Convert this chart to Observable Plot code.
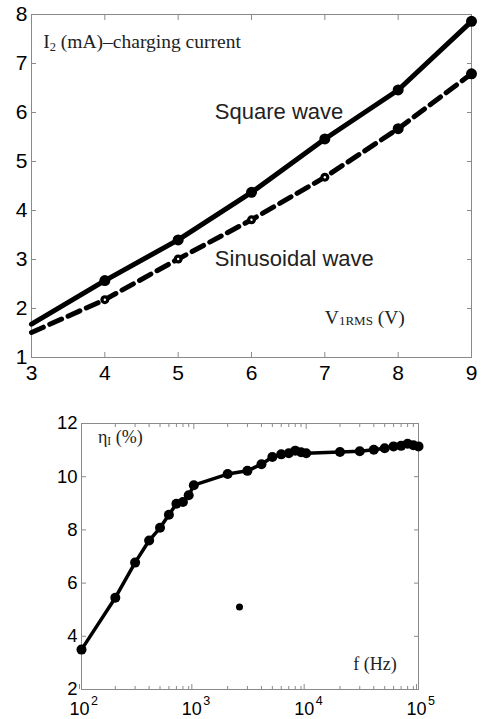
<!DOCTYPE html>
<html><head><meta charset="utf-8">
<script src="https://cdn.jsdelivr.net/npm/d3@7"></script>
<script src="https://cdn.jsdelivr.net/npm/@observablehq/plot@0.6"></script>
<style>body{margin:0;background:#fff} #c svg{display:block;overflow:visible}</style>
</head><body><div id="c"></div>
<script>
// ---- top chart data ----
const voltage = [3, 4, 5, 6, 7, 8, 9];
const squareCurrent = [1.68, 2.57, 3.40, 4.37, 5.46, 6.46, 7.86];
const sineCurrent = [1.51, 2.18, 3.01, 3.81, 4.68, 5.67, 6.79];
const markerVoltages = [4, 5, 6, 7, 8, 9];
const sineOpenMarkers = [4, 5, 6, 7];
const xTicksTop = [3, 4, 5, 6, 7, 8, 9];
const yTicksTop = [1, 2, 3, 4, 5, 6, 7, 8];

// ---- bottom chart data ----
const freq = [100, 200, 300, 400, 500, 600, 700, 800, 900, 1000, 2000, 3000, 4000, 5000, 6000, 7000, 8000, 9000, 10000, 20000, 30000, 40000, 50000, 60000, 70000, 80000, 90000, 100000];
const efficiency = [3.5, 5.45, 6.77, 7.6, 8.08, 8.57, 8.98, 9.05, 9.3, 9.68, 10.1, 10.22, 10.47, 10.74, 10.84, 10.88, 10.98, 10.92, 10.88, 10.93, 10.96, 11.01, 11.07, 11.14, 11.16, 11.24, 11.18, 11.14];
const outlierFreq = [2550];
const outlierEff = [5.1];
const majorFreqTicks = [100, 1000, 10000, 100000];
const minorFreqTicks = [200,300,400,500,600,700,800,900,2000,3000,4000,5000,6000,7000,8000,9000,20000,30000,40000,50000,60000,70000,80000,90000];
const yTicksBottom = [2, 4, 6, 8, 10, 12];

const SANS = "'Liberation Sans', Arial, sans-serif";
const SERIF = "'Liberation Serif', 'Times New Roman', serif";
const GRID = "#8a8a8a";

const sq = voltage.map((v, i) => ({v, i: squareCurrent[i]}));
const sn = voltage.map((v, i) => ({v, i: sineCurrent[i]}));

const topChart = Plot.plot({
  width: 483, height: 390,
  marginLeft: 31, marginRight: 12, marginTop: 14, marginBottom: 33,
  style: {fontFamily: SANS, background: "white", color: "black"},
  x: {domain: [3, 9]},
  y: {domain: [1, 8]},
  marks: [
    Plot.frame({stroke: GRID}),
    Plot.axisX(xTicksTop, {anchor: "bottom", tickSize: -5, tickPadding: 13, stroke: GRID, fontSize: 21, label: null}),
    Plot.axisX(xTicksTop, {anchor: "top", tickSize: -5, tickFormat: () => "", stroke: GRID, label: null}),
    Plot.axisY(yTicksTop, {anchor: "left", tickSize: -5, tickPadding: 9, stroke: GRID, fontSize: 21, label: null}),
    Plot.axisY(yTicksTop, {anchor: "right", tickSize: -5, tickFormat: () => "", stroke: GRID, label: null}),
    Plot.line(sq, {x: "v", y: "i", stroke: "black", strokeWidth: 5}),
    Plot.line(sn, {x: "v", y: "i", stroke: "black", strokeWidth: 5, strokeDasharray: "13,7"}),
    Plot.dot(sq.filter(d => markerVoltages.includes(d.v)), {x: "v", y: "i", r: 5.5, fill: "black"}),
    Plot.dot(sn.filter(d => markerVoltages.includes(d.v) && !sineOpenMarkers.includes(d.v)), {x: "v", y: "i", r: 5.5, fill: "black"}),
    Plot.dot(sn.filter(d => sineOpenMarkers.includes(d.v)), {x: "v", y: "i", r: 4.5, fill: "black"}),
    Plot.dot(sn.filter(d => sineOpenMarkers.includes(d.v)), {x: "v", y: "i", r: 1.2, fill: "white"}),
    Plot.text(["Square wave"], {x: 5.5, y: 5.876, text: d => d, textAnchor: "start", lineAnchor: "bottom", fontSize: 22, fill: "#222"}),
    Plot.text(["Sinusoidal wave"], {x: 5.5, y: 2.873, text: d => d, textAnchor: "start", lineAnchor: "bottom", fontSize: 22, fill: "#222"}),
    Plot.text(["I2 (mA)–charging current"], {x: 3.16, y: 7.326, text: d => d, textAnchor: "start", lineAnchor: "bottom", fontSize: 19.5, fontFamily: SERIF, fill: "#222"}),
    Plot.text(["V1RMS (V)"], {x: 7.0, y: 1.683, text: d => d, textAnchor: "start", lineAnchor: "bottom", fontSize: 19.5, fontFamily: SERIF, fill: "#222"})
  ]
});

const eff = freq.map((f, i) => ({f, e: efficiency[i]}));
const outl = outlierFreq.map((f, i) => ({f, e: outlierEff[i]}));

const bottomChart = Plot.plot({
  width: 483, height: 329,
  marginLeft: 81, marginRight: 65, marginTop: 33, marginBottom: 30,
  style: {fontFamily: SANS, background: "white", color: "black"},
  x: {type: "log", domain: [100, 100000]},
  y: {domain: [2, 12]},
  marks: [
    Plot.frame({stroke: GRID}),
    Plot.axisX(majorFreqTicks, {anchor: "bottom", tickSize: -5, tickPadding: 18, tickFormat: () => "10", dx: -2, stroke: GRID, fontSize: 18, label: null}),
    Plot.axisX(majorFreqTicks, {anchor: "bottom", tickSize: 0, tickPadding: 6.5, tickFormat: d => String(Math.round(Math.log10(d))), dx: 13, fontSize: 12.5, label: null}),
    Plot.axisX(minorFreqTicks, {anchor: "bottom", tickSize: -3, tickFormat: () => "", stroke: GRID, label: null}),
    Plot.axisX(majorFreqTicks, {anchor: "top", tickSize: -5, tickFormat: () => "", stroke: GRID, label: null}),
    Plot.axisX(minorFreqTicks, {anchor: "top", tickSize: -3, tickFormat: () => "", stroke: GRID, label: null}),
    Plot.axisY(yTicksBottom, {anchor: "left", tickSize: -5, tickPadding: 9, stroke: GRID, fontSize: 18.5, label: null}),
    Plot.axisY(yTicksBottom, {anchor: "right", tickSize: -5, tickFormat: () => "", stroke: GRID, label: null}),
    Plot.line(eff, {x: "f", y: "e", stroke: "black", strokeWidth: 3.5}),
    Plot.dot(eff, {x: "f", y: "e", r: 5, fill: "black"}),
    Plot.dot(outl, {x: "f", y: "e", r: 3.5, fill: "black"}),
    Plot.text(["ηI (%)"], {x: 140, y: 11.26, text: d => d, textAnchor: "start", lineAnchor: "bottom", fontSize: 18, fontFamily: SERIF, fill: "#222"}),
    Plot.text(["f (Hz)"], {x: 26300, y: 2.715, text: d => d, textAnchor: "start", lineAnchor: "bottom", fontSize: 18, fontFamily: SERIF, fill: "#222"})
  ]
});

// rich text subscripts
function sub(svg, full, base, subs, rest, subSize, subDy) {
  d3.select(svg).selectAll("text").each(function() {
    if (this.textContent === full) {
      const t = d3.select(this);
      t.text(null);
      t.append("tspan").text(base);
      t.append("tspan").attr("font-size", subSize).attr("dy", subDy).text(subs);
      t.append("tspan").attr("dy", -subDy).text(rest);
    }
  });
}
sub(topChart, "I2 (mA)–charging current", "I", "2", " (mA)–charging current", 12.5, 3);
sub(topChart, "V1RMS (V)", "V", "1RMS", " (V)", 13, 1);
sub(bottomChart, "ηI (%)", "η", "I", " (%)", 11.5, 2);

document.getElementById("c").append(topChart, bottomChart);
</script>
</body></html>
